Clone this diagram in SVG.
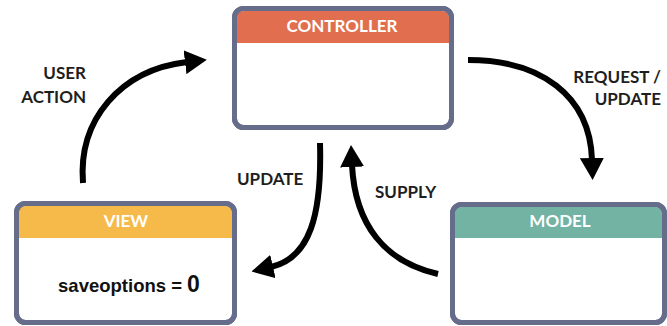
<svg xmlns="http://www.w3.org/2000/svg" width="667" height="326" viewBox="0 0 667 326">
<defs>
<style>
.box{fill:#ffffff;stroke:#666d8b;stroke-width:5}
.edge{fill:none;stroke:#666d8b;stroke-width:5}
.hdr{font-family:Lato,"Open Sans","Noto Sans",sans-serif;font-weight:bold;font-size:17px;fill:#ffffff;text-anchor:middle}
.lbl{font-family:Lato,"Open Sans","Noto Sans",sans-serif;font-weight:bold;font-size:17px;fill:#1e1e1e}
.conn{fill:none;stroke:#000000;stroke-width:6;marker-end:url(#ah)}
.val{font-family:"Liberation Sans",Arial,sans-serif;font-weight:bold;fill:#111111;text-anchor:middle}
</style>
<marker id="ah" viewBox="0 0 22 24" refX="2" refY="12" markerWidth="22" markerHeight="24" markerUnits="userSpaceOnUse" orient="auto">
<path d="M0,0 L22,12 L0,24 Z" fill="#000000"/>
</marker>
</defs>
<rect width="667" height="326" fill="#ffffff"/>
<g id="controller">
<rect class="box" x="234.5" y="8.5" width="217" height="119" rx="9"/>
<path d="M237,43 V18 Q237,11 244,11 H442 Q449,11 449,18 V43 Z" fill="#e16e4f"/>
<rect class="edge" x="234.5" y="8.5" width="217" height="119" rx="9"/>
<text class="hdr" x="342" y="32">CONTROLLER</text>
</g>
<g id="view">
<rect class="box" x="16.5" y="203.5" width="218" height="119" rx="9"/>
<path d="M19,238 V213 Q19,206 26,206 H225 Q232,206 232,213 V238 Z" fill="#f6ba4b"/>
<rect class="edge" x="16.5" y="203.5" width="218" height="119" rx="9"/>
<text class="hdr" x="126" y="227">VIEW</text>
<text class="val" x="129" y="292"><tspan font-size="18.5">saveoptions = </tspan><tspan font-size="23">0</tspan></text>
</g>
<g id="model">
<rect class="box" x="452.5" y="204.5" width="212" height="118" rx="9"/>
<path d="M455,238 V214 Q455,207 462,207 H655 Q662,207 662,214 V238 Z" fill="#72b3a3"/>
<rect class="edge" x="452.5" y="204.5" width="212" height="118" rx="9"/>
<text class="hdr" x="560" y="227">MODEL</text>
</g>
<g id="connectors">
<path class="conn" d="M83,183 C78,120 120,70 187,62"/>
<path class="conn" d="M468,60 C540,60 590,95 592,160"/>
<path class="conn" d="M320,143 C322,215 310,258 271,267"/>
<path class="conn" d="M438,274 C385,262 355,225 352,165"/>
<text class="lbl" x="86" y="79" text-anchor="end">USER</text>
<text class="lbl" x="86" y="103" text-anchor="end">ACTION</text>
<text class="lbl" x="661" y="83" text-anchor="end">REQUEST /</text>
<text class="lbl" x="661" y="105" text-anchor="end">UPDATE</text>
<text class="lbl" x="237" y="185">UPDATE</text>
<text class="lbl" x="375" y="198">SUPPLY</text>
</g>
</svg>
